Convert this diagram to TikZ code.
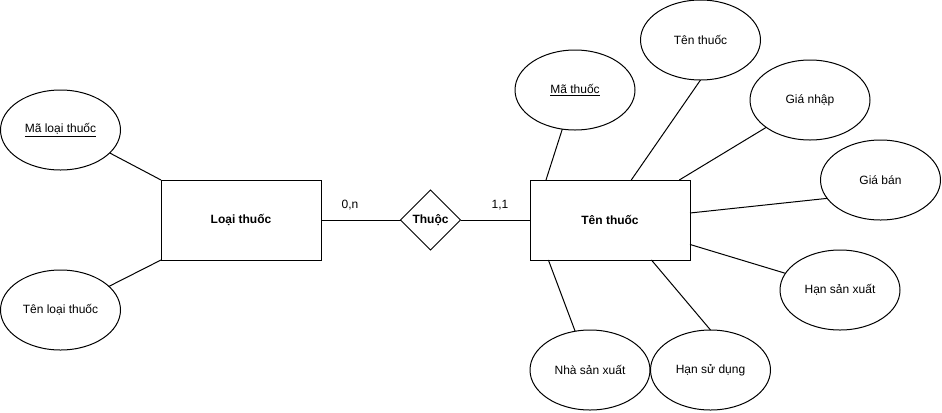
\documentclass[tikz,border=0pt]{standalone}
\usepackage{fontspec}
\setmainfont{Liberation Sans}
\usetikzlibrary{shapes.geometric}
\begin{document}
\begin{tikzpicture}[x=0.75pt,y=-0.75pt,
  every node/.style={font=\fontsize{9pt}{11pt}\selectfont, text=black},
  attr/.style={draw, ellipse, minimum width=90pt, minimum height=60pt, inner sep=0pt, outer sep=0pt, line width=0.75pt},
  entity/.style={draw, rectangle, minimum width=120pt, minimum height=60pt, inner sep=0pt, outer sep=0pt, line width=0.75pt, font=\fontsize{9pt}{11pt}\selectfont\bfseries},
  rel/.style={draw, diamond, aspect=1, minimum width=45pt, minimum height=45pt, inner sep=0pt, outer sep=0pt, line width=0.75pt, font=\fontsize{9pt}{11pt}\selectfont\bfseries},
  conn/.style={line width=0.75pt},
  card/.style={inner sep=0pt}]
\useasboundingbox (0,0) rectangle (942,412);
% entities
\node[entity] (lt) at (241,220) {Loại thuốc};
\node[entity] (tt) at (610,220) {Tên thuốc};
\node[rel] (r) at (430.5,220) {Thuộc};
% attributes left
\node[attr] (mlt) at (60.5,130) {\underline{Mã loại thuốc}};
\node[attr] (tlt) at (60.5,310) {Tên loại thuốc};
% attributes right
\node[attr] (mt) at (575,90) {\underline{Mã thuốc}};
\node[attr] (ten) at (700.5,40) {Tên thuốc};
\node[attr] (gn) at (810,100) {Giá nhập};
\node[attr] (gb) at (880.5,180) {Giá bán};
\node[attr] (hsx) at (840,290) {Hạn sản xuất};
\node[attr] (hsd) at (710.5,370) {Hạn sử dụng};
\node[attr] (nsx) at (590,370) {Nhà sản xuất};
% cardinalities
\node[card] (c1) at (350,205) {0,n};
\node[card] (c2) at (500,205) {1,1};
% connectors
\draw[conn] (lt.east) -- (r.west);
\draw[conn] (r.east) -- (tt.west);
\draw[conn] (mlt.-25.6) -- (lt.north west);
\draw[conn] (tlt.26.6) -- (lt.south west);
\draw[conn] (mt.-108.9) -- (tt.148);
\draw[conn] (ten.south) -- (tt.62.3);
\draw[conn] (gn.-148.1) -- (tt.30.5);
\draw[conn] (gb.-161.9) -- (tt.5);
\draw[conn] (hsx.163.5) -- (tt.-17.4);
\draw[conn] (hsd.north) -- (tt.-44.3);
\draw[conn] (nsx.111.5) -- (tt.-147.6);
\end{tikzpicture}
\end{document}
